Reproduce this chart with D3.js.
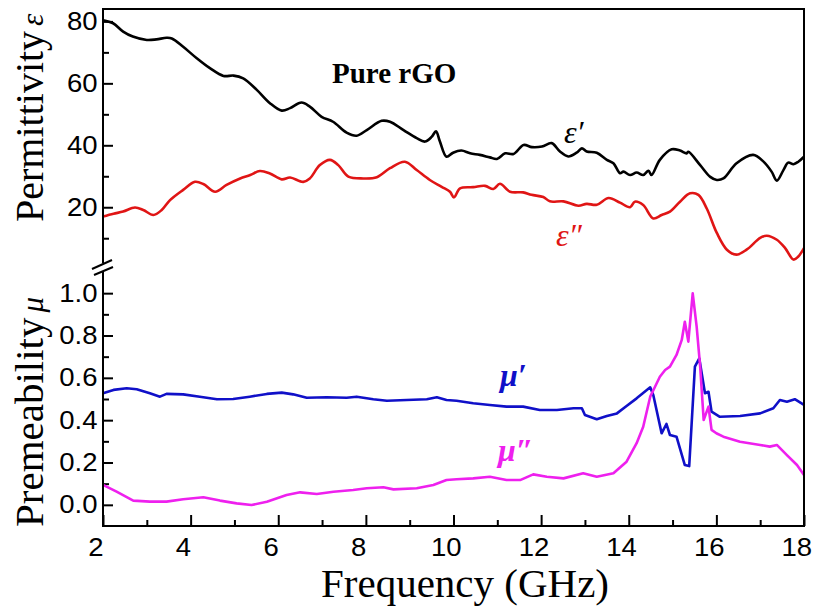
<!DOCTYPE html>
<html lang="en">
<head>
  <meta charset="UTF-8">
  <title>Pure rGO - permittivity and permeability</title>
  <script src="https://d3js.org/d3.v7.min.js"></script>
  <style>
    body { margin: 0; background: #fff; }
    .axis text { font-family: "Liberation Sans", Arial, sans-serif; font-size: 25px; fill: #000; }
    .axis line { stroke: #000; stroke-width: 2px; }
    .axis path { display: none; }
    .title { font-family: "Liberation Serif", "Times New Roman", serif; font-size: 41px; fill: #000; }
    .curve { fill: none; stroke-width: 2.6px; stroke-linejoin: round; }
  </style>
</head>
<body>
  <svg width="814" height="612"></svg>

  <script>
    // values, [frequency GHz, value]
    const epsReal = [
      [2.0,80.4],[2.23,79.4],[2.46,76.7],[2.68,75.1],[3.0,74.0],[3.22,74.2],[3.45,74.7],[3.57,74.5],
      [3.83,71.8],[4.14,68.1],[4.44,64.9],[4.75,62.4],[4.98,62.5],[5.2,61.6],[5.51,57.9],[5.81,53.6],
      [6.08,51.2],[6.27,52.0],[6.53,53.8],[6.72,52.5],[6.99,49.2],[7.25,47.6],[7.56,44.1],[7.79,43.1],
      [8.02,44.9],[8.36,47.9],[8.55,47.6],[8.86,44.9],[9.16,42.3],[9.35,41.2],[9.5,42.7],[9.6,44.5],
      [9.69,41.2],[9.84,36.3],[9.99,37.6],[10.18,38.3],[10.38,37.4],[10.6,36.9],[10.83,36.1],[10.99,35.6],
      [11.18,37.4],[11.37,37.2],[11.6,40.1],[11.79,39.4],[12.02,39.6],[12.24,40.7],[12.43,38.0],[12.62,36.4],
      [12.81,37.6],[12.93,39.0],[13.04,38.0],[13.27,37.6],[13.5,35.3],[13.65,34.2],[13.8,31.0],[13.88,31.5],
      [14.03,30.4],[14.18,31.2],[14.33,30.4],[14.45,31.8],[14.52,30.4],[14.71,35.3],[14.98,38.7],[15.17,38.3],
      [15.32,37.4],[15.36,37.9],[15.63,33.6],[15.86,29.8],[16.01,28.8],[16.16,29.3],[16.46,34.2],[16.84,36.9],
      [17.07,34.8],[17.26,31.5],[17.38,28.6],[17.53,32.0],[17.64,34.4],[17.76,33.9],[17.87,34.7],[18.0,36.3]
    ];
    const epsImag = [
      [2.0,17.0],[2.24,17.9],[2.46,18.6],[2.73,19.9],[2.92,19.1],[3.15,17.5],[3.34,19.1],[3.53,22.3],
      [3.83,25.6],[4.1,28.2],[4.29,27.5],[4.56,25.0],[4.82,27.2],[5.13,29.3],[5.36,30.4],[5.58,31.7],
      [5.81,30.9],[6.08,29.0],[6.27,29.6],[6.57,28.2],[6.72,29.3],[6.95,33.6],[7.18,35.3],[7.37,33.6],
      [7.6,29.9],[7.94,29.3],[8.25,29.7],[8.55,32.6],[8.89,34.7],[9.16,32.0],[9.46,28.8],[9.73,26.6],
      [9.92,25.0],[10.01,23.2],[10.15,26.1],[10.45,26.5],[10.72,26.9],[10.91,25.9],[11.06,27.6],[11.29,25.0],
      [11.59,24.8],[11.78,24.0],[12.05,23.3],[12.2,21.9],[12.51,21.9],[12.85,20.5],[13.04,21.1],[13.27,20.8],
      [13.54,23.0],[13.8,21.5],[14.03,20.0],[14.14,21.8],[14.33,20.7],[14.56,16.4],[14.75,17.5],[14.94,18.6],
      [15.17,21.8],[15.4,24.5],[15.59,24.0],[15.78,19.6],[16.01,11.7],[16.24,6.3],[16.46,4.7],[16.69,6.3],
      [17.0,10.1],[17.15,10.8],[17.38,9.5],[17.57,6.8],[17.76,3.1],[17.87,4.1],[18.0,6.8]
    ];
    const muReal = [
      [2.0,0.527],[2.24,0.543],[2.54,0.551],[2.77,0.546],[3.07,0.527],[3.3,0.511],[3.45,0.524],[3.83,0.522],
      [4.21,0.511],[4.6,0.499],[4.97,0.500],[5.35,0.511],[5.74,0.524],[6.08,0.530],[6.34,0.522],[6.65,0.506],
      [7.11,0.508],[7.56,0.506],[7.79,0.511],[8.17,0.499],[8.48,0.492],[8.93,0.495],[9.39,0.499],[9.62,0.508],
      [9.84,0.495],[10.07,0.492],[10.45,0.480],[10.83,0.472],[11.21,0.464],[11.59,0.464],[11.97,0.448],[12.36,0.448],
      [12.74,0.456],[12.93,0.456],[13.0,0.424],[13.27,0.404],[13.5,0.420],[13.73,0.432],[13.95,0.467],[14.18,0.503],
      [14.49,0.555],[14.56,0.519],[14.75,0.338],[14.86,0.382],[14.94,0.330],[15.09,0.322],[15.28,0.188],[15.38,0.183],
      [15.51,0.653],[15.61,0.692],[15.74,0.527],[15.82,0.534],[15.89,0.440],[16.08,0.416],[16.54,0.420],[17.0,0.432],
      [17.3,0.456],[17.45,0.495],[17.61,0.487],[17.79,0.499],[18.0,0.472]
    ];
    const muImag = [
      [2.0,0.094],[2.31,0.062],[2.69,0.020],[3.07,0.015],[3.45,0.015],[3.83,0.026],[4.29,0.036],[4.67,0.020],
      [5.05,0.007],[5.39,-0.001],[5.74,0.015],[6.19,0.046],[6.5,0.059],[6.88,0.051],[7.26,0.062],[7.71,0.070],
      [8.02,0.078],[8.4,0.083],[8.63,0.073],[9.16,0.078],[9.54,0.094],[9.84,0.117],[10.07,0.121],[10.45,0.125],
      [10.83,0.133],[11.21,0.117],[11.52,0.117],[11.82,0.144],[12.13,0.133],[12.51,0.125],[12.96,0.149],[13.27,0.133],
      [13.65,0.149],[13.95,0.204],[14.18,0.291],[14.33,0.369],[14.49,0.511],[14.6,0.558],[14.71,0.605],[14.83,0.637],
      [14.94,0.653],[15.09,0.708],[15.21,0.779],[15.28,0.865],[15.36,0.771],[15.46,0.999],[15.55,0.842],[15.63,0.653],
      [15.71,0.401],[15.82,0.464],[15.89,0.354],[16.0,0.338],[16.16,0.322],[16.54,0.298],[17.0,0.283],[17.22,0.275],
      [17.38,0.283],[17.61,0.235],[17.84,0.188],[18.0,0.141]
    ];

    const freqTicks = [2, 4, 6, 8, 10, 12, 14, 16, 18];
    const freqMinor = [3, 5, 7, 9, 11, 13, 15, 17];
    const epsTicks = [20, 40, 60, 80];
    const epsMinor = [10, 30, 50, 70];
    const muTicks = [0.0, 0.2, 0.4, 0.6, 0.8, 1.0];
    const muMinor = [0.1, 0.3, 0.5, 0.7, 0.9];

    const svg = d3.select("svg");
    const plotLeft = 103, plotRight = 804, plotTop = 9, plotBottom = 526;
    const breakTop = 263, breakBottom = 272;

    const x = d3.scaleLinear().domain([2, 18]).range([plotLeft, plotRight]);
    const yEps = d3.scaleLinear().domain([2, 84]).range([breakTop, plotTop]);
    const yMu = d3.scaleLinear().domain([-0.1, 1.1]).range([plotBottom, breakBottom]);

    // ticks (inward), labels slightly wider like the original
    const xAxisG = svg.append("g").attr("class", "axis")
      .attr("transform", "translate(0," + plotBottom + ")")
      .call(d3.axisBottom(x).tickValues(freqTicks).tickSize(-11).tickPadding(12).tickFormat(d3.format("d")));
    xAxisG.selectAll("text").attr("dx", -7);
    svg.append("g").attr("class", "axis")
      .attr("transform", "translate(0," + plotBottom + ")")
      .call(d3.axisBottom(x).tickValues(freqMinor).tickSize(-6).tickFormat(""));

    svg.append("g").attr("class", "axis")
      .attr("transform", "translate(" + plotLeft + ",0)")
      .call(d3.axisLeft(yEps).tickValues(epsTicks).tickSize(-10).tickPadding(5).tickFormat(d3.format("d")));
    svg.append("g").attr("class", "axis")
      .attr("transform", "translate(" + plotLeft + ",0)")
      .call(d3.axisLeft(yEps).tickValues(epsMinor).tickSize(-6).tickFormat(""));

    svg.append("g").attr("class", "axis")
      .attr("transform", "translate(" + plotLeft + ",0)")
      .call(d3.axisLeft(yMu).tickValues(muTicks).tickSize(-10).tickPadding(5).tickFormat(d3.format(".1f")));
    svg.append("g").attr("class", "axis")
      .attr("transform", "translate(" + plotLeft + ",0)")
      .call(d3.axisLeft(yMu).tickValues(muMinor).tickSize(-6).tickFormat(""));

    svg.selectAll(".axis text").attr("transform", "scale(1.1,1)");

    // curves
    const lineSmooth = d3.line().x(d => x(d[0])).curve(d3.curveCatmullRom.alpha(0.5));
    const lineRough = d3.line().x(d => x(d[0])).curve(d3.curveLinear);

    svg.append("path").attr("class", "curve").attr("stroke", "#000000")
      .attr("d", lineSmooth.y(d => yEps(d[1]))(epsReal));
    svg.append("path").attr("class", "curve").attr("stroke", "#e01515")
      .attr("d", lineSmooth.y(d => yEps(d[1]))(epsImag));
    svg.append("path").attr("class", "curve").attr("stroke", "#1010c8")
      .attr("d", lineRough.y(d => yMu(d[1]))(muReal));
    svg.append("path").attr("class", "curve").attr("stroke", "#ee20ee")
      .attr("d", lineRough.y(d => yMu(d[1]))(muImag));

    // frame with the axis break on the left side
    const frame = svg.append("g").attr("fill", "none").attr("stroke", "#000").attr("stroke-width", 2);
    frame.append("path").attr("d",
      "M" + plotLeft + "," + breakTop + "V" + plotTop + "H" + plotRight + "V" + plotBottom + "H" + plotLeft + "V" + breakBottom);
    frame.append("line").attr("x1", plotLeft - 11).attr("y1", breakTop + 6).attr("x2", plotLeft + 9).attr("y2", breakTop - 3);
    frame.append("line").attr("x1", plotLeft - 9).attr("y1", breakBottom + 3).attr("x2", plotLeft + 10).attr("y2", breakBottom - 5);

    // axis titles
    svg.append("text").attr("class", "title")
      .attr("x", 465).attr("y", 597).attr("text-anchor", "middle")
      .text("Frequency (GHz)");

    const t1 = svg.append("text").attr("class", "title").attr("font-size", "40px")
      .attr("transform", "translate(43,222) rotate(-90)");
    t1.append("tspan").attr("font-size", "40px").text("Permittivity");
    t1.append("tspan").attr("dx", 5).attr("font-style", "italic").attr("font-size", "31px").text("ε");

    const t2 = svg.append("text").attr("class", "title")
      .attr("transform", "translate(43,527) rotate(-90)");
    t2.append("tspan").text("Premeability");
    t2.append("tspan").attr("dx", 5).attr("font-style", "italic").attr("font-size", "31px").text("μ");

    // annotations
    const serif = "'Liberation Serif', 'Times New Roman', serif";
    svg.append("text").attr("x", 332).attr("y", 83)
      .attr("font-family", serif).attr("font-weight", "bold").attr("font-size", 29)
      .text("Pure rGO");
    svg.append("text").attr("x", 564).attr("y", 143)
      .attr("font-family", serif).attr("font-style", "italic").attr("font-size", 32)
      .text("ε′");
    svg.append("text").attr("x", 556).attr("y", 246).attr("fill", "#e01515")
      .attr("font-family", serif).attr("font-style", "italic").attr("font-size", 32)
      .text("ε″");
    svg.append("text").attr("x", 500).attr("y", 386).attr("fill", "#1010c8")
      .attr("font-family", serif).attr("font-style", "italic").attr("font-weight", "bold").attr("font-size", 32)
      .text("μ′");
    svg.append("text").attr("x", 498).attr("y", 461).attr("fill", "#ee20ee")
      .attr("font-family", serif).attr("font-style", "italic").attr("font-weight", "bold").attr("font-size", 32)
      .text("μ″");
  </script>
</body>
</html>
